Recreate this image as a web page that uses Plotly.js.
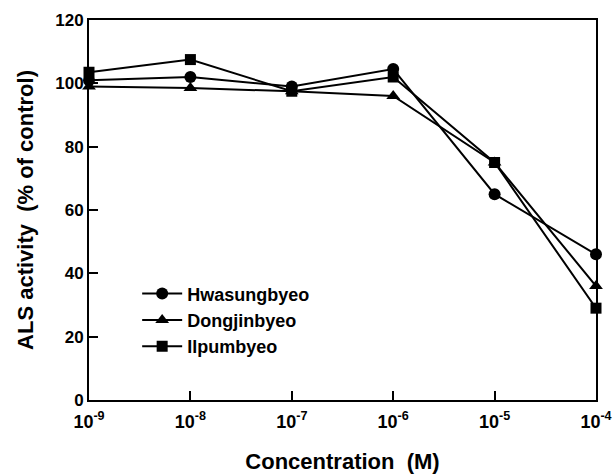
<!DOCTYPE html>
<html><head><meta charset="utf-8">
<script src="https://cdn.plot.ly/plotly-3.0.1.min.js"></script>
<style>html,body{margin:0;padding:0;background:#fff}#chart{width:615px;height:474px}</style>
</head><body><div id="chart"></div>
<script>
const concentrations = [1e-9, 1e-8, 1e-7, 1e-6, 1e-5, 1e-4];
const hwasungbyeo = [101, 102, 99, 104.5, 65, 46];
const dongjinbyeo = [99, 98.5, 97.5, 96, 75, 36];
const ilpumbyeo = [103.5, 107.5, 97.5, 102, 75, 29];
const xTickVals = [1e-9, 1e-8, 1e-7, 1e-6, 1e-5, 1e-4];
const xTickText = ['10<sup>-9</sup>','10<sup>-8</sup>','10<sup>-7</sup>','10<sup>-6</sup>','10<sup>-5</sup>','10<sup>-4</sup>'];
const seriesNames = ['Hwasungbyeo', 'Dongjinbyeo', 'Ilpumbyeo'];
const seriesValues = [hwasungbyeo, dongjinbyeo, ilpumbyeo];
const symbols = ['circle', 'triangle-up', 'square'];
const markerSizes = [12, 12, 11];

const FONT = 'Arial, "Liberation Sans", sans-serif';
const traces = seriesNames.map((name, i) => ({
  x: concentrations, y: seriesValues[i], name: name, type: 'scatter', mode: 'lines+markers',
  cliponaxis: false,
  line: {color: '#000', width: 2},
  marker: {symbol: symbols[i], size: markerSizes[i], color: '#000'}
}));

const layout = {
  width: 615, height: 474,
  margin: {l: 89, r: 19, t: 20, b: 74},
  paper_bgcolor: '#fff', plot_bgcolor: '#fff',
  font: {family: FONT, color: '#000', size: 17, weight: 'bold'},
  showlegend: true,
  legend: {x: 0.095, y: 0.328, xanchor: 'left', yanchor: 'top', bgcolor: 'rgba(0,0,0,0)',
    font: {family: FONT, size: 18, weight: 'bold', color: '#000'}, itemwidth: 40, tracegroupgap: 0},
  xaxis: {type: 'log', range: [-9.00001, -3.99999], tickvals: xTickVals, ticktext: xTickText,
    ticks: 'inside', ticklen: 9, tickwidth: 2, tickcolor: '#000',
    showline: true, linewidth: 2, linecolor: '#000', mirror: true,
    showgrid: false, zeroline: false, ticklabelstandoff: 4,
    tickfont: {family: FONT, size: 18, weight: 'bold'},
    title: {text: 'Concentration  (M)', font: {family: FONT, size: 22, weight: 'bold'}, standoff: 23}},
  yaxis: {range: [0, 120], dtick: 20, tick0: 0,
    ticks: 'inside', ticklen: 9, tickwidth: 2, tickcolor: '#000',
    showline: true, linewidth: 2, linecolor: '#000', mirror: true,
    showgrid: false, zeroline: false,
    tickfont: {family: FONT, size: 17, weight: 'bold'},
    title: {text: 'ALS activity  (% of control)', font: {family: FONT, size: 22, weight: 'bold'}, standoff: 16}}
};
Plotly.newPlot('chart', traces, layout, {displayModeBar: false, staticPlot: true});
</script></body></html>
